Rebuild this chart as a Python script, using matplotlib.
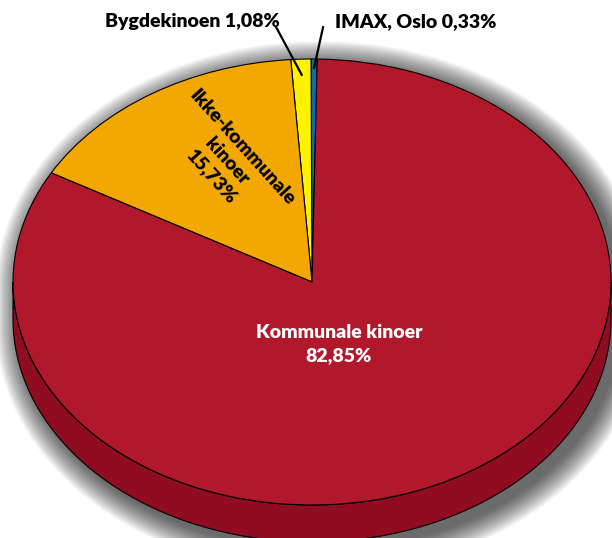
import numpy as np
import matplotlib.pyplot as plt
from matplotlib.patches import Polygon

plt.rcParams['font.family'] = ['Lato', 'DejaVu Sans']

labels = ["IMAX, Oslo", "Bygdekinoen", "Ikke-kommunale\nkinoer", "Kommunale kinoer"]
shares = [0.33, 1.08, 15.73, 82.85]
share_text = ["0,33%", "1,08%", "15,73%", "82,85%"]
colors = ["#0A6EB4", "#FFF200", "#F2A800", "#B2182B"]
side_color = "#900C20"

start = 89
depth = 0.166
rx_px, ry_px = 299.0, 223.0   # pixel size of one data unit

fig = plt.figure(figsize=(6.12, 5.38), dpi=100)
ax = fig.add_axes([0, 0, 1, 1])

# soft shadow round the whole disc: stacked, slowly growing translucent shapes
t = np.linspace(0, np.pi, 300)
for d in range(1, 26):
    gx = 1 + d / rx_px
    gy = 1 + d / ry_px
    xs = np.r_[np.cos(t), np.cos(t + np.pi)] * gx + 8 / rx_px
    ys = np.r_[np.sin(t) * gy, np.sin(t + np.pi) * gy - depth] - 7 / ry_px
    ax.add_patch(Polygon(np.column_stack([xs, ys]), closed=True,
                         facecolor='black', edgecolor='none', alpha=0.033))

# side of the 3d disc (front half only)
ts = np.linspace(np.pi, 2 * np.pi, 200)
side = np.r_[np.column_stack([np.cos(ts), np.sin(ts)]),
             np.column_stack([np.cos(ts[::-1]), np.sin(ts[::-1]) - depth])]
ax.add_patch(Polygon(side, closed=True, facecolor=side_color, edgecolor='black', lw=0.8))

wedges, _ = ax.pie(shares, colors=colors, startangle=start, counterclock=True,
                   wedgeprops=dict(edgecolor='black', linewidth=0.8))

ax.set_aspect('auto')
ax.set_xlim(-1.0435, 1.0033)
ax.set_ylim(-1.148, 1.2646)
ax.axis('off')

def mid_point(w, r):
    a = np.deg2rad((w.theta1 + w.theta2) / 2)
    return r * np.cos(a), r * np.sin(a)

# big slices, text inside
ax.text(0.09, -0.278, labels[3] + "\n" + share_text[3], color='white', fontsize=14,
        fontweight='heavy', ha='center', va='center', linespacing=1.45)
ax.text(-0.285, 0.54, labels[2] + "\n" + share_text[2], color='black', fontsize=14,
        fontweight='heavy', ha='center', va='center', rotation=-48,
        rotation_mode='anchor', linespacing=1.3, multialignment='center')

# small slices, labels above with leader lines
ax.text(-0.107, 1.17, labels[1] + " " + share_text[1], fontsize=14, fontweight='heavy',
        ha='right', va='center')
ax.text(0.077, 1.17, labels[0] + " " + share_text[0], fontsize=14, fontweight='heavy',
        ha='left', va='center')
x1, y1 = mid_point(wedges[1], 0.93)
ax.plot([-0.12, x1], [1.143, y1], color='black', lw=1.6)
x0, y0 = mid_point(wedges[0], 0.96)
ax.plot([0.037, x0], [1.143, y0], color='black', lw=1.6)

fig.savefig("out.png", dpi=100)
